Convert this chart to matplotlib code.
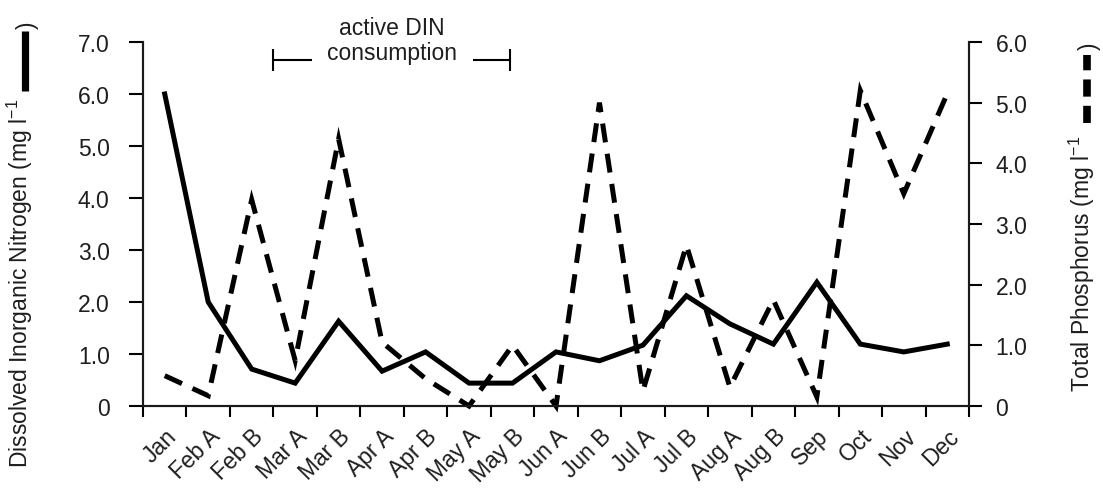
import numpy as np
import matplotlib
matplotlib.use("Agg")
import matplotlib.pyplot as plt
from matplotlib.lines import Line2D


# Data
months = ["Jan", "Feb A", "Feb B", "Mar A", "Mar B", "Apr A", "Apr B",
          "May A", "May B", "Jun A", "Jun B", "Jul A", "Jul B", "Aug A",
          "Aug B", "Sep", "Oct", "Nov", "Dec"]
din = [6.0, 2.0, 0.71, 0.44, 1.63, 0.67, 1.04, 0.44, 0.44, 1.04,
       0.87, 1.17, 2.12, 1.58, 1.19, 2.38, 1.19, 1.04, 1.19]
tp = [0.5, 0.17, 3.4, 0.75, 4.4, 1.05, 0.45, 0.0, 1.0, 0.0,
      5.0, 0.25, 2.65, 0.31, 1.75, 0.15, 5.2, 3.5, 5.15]

left_ticks = [0, 1, 2, 3, 4, 5, 6, 7]
right_ticks = [0, 1, 2, 3, 4, 5, 6]

plt.rcParams["font.family"] = ["Liberation Sans", "DejaVu Sans"]
plt.rcParams["mathtext.fontset"] = "custom"
plt.rcParams["mathtext.rm"] = "Liberation Sans"
plt.rcParams["font.size"] = 16.5
txt_col = "#1e1e1e"

W, H = 1103, 489
fig = plt.figure(figsize=(W / 100, H / 100), dpi=100)
ax = fig.add_axes([143 / W, 1 - 407 / H, (969 - 143) / W, (407 - 43) / H])
ax2 = ax.twinx()

x = np.arange(len(months))
lw = 3.6

ax.plot(x, din, color="black", lw=lw, solid_joinstyle="miter",
        clip_on=False, zorder=3)
ax2.plot(x, tp, color="black", lw=lw, linestyle=(0, (3.8, 2.3)),
         dash_capstyle="butt", dash_joinstyle="miter", clip_on=False)

# axes limits / ticks
ax.set_xlim(-0.5, len(months) - 0.5)
ax.set_ylim(0, 7)
ax2.set_ylim(0, 6)

ax.set_xticks(np.arange(-0.5, len(months)))
ax.set_xticklabels([])
ax.set_xticks(x, minor=True)
ax.set_xticklabels(months, minor=True, rotation=45, ha="right", va="top",
                   rotation_mode="anchor", color=txt_col)
ax.tick_params(axis="x", which="major", direction="out", length=8,
               width=1.5)
ax.tick_params(axis="x", which="minor", length=0, pad=13)

ax.set_yticks(left_ticks)
ax.set_yticklabels(["0"] + ["%.1f" % v for v in left_ticks[1:]],
                   color=txt_col)
ax.tick_params(axis="y", direction="out", length=10, width=1.5, pad=14)
ax2.set_yticks(right_ticks)
ax2.set_yticklabels(["0"] + ["%.1f" % v for v in right_ticks[1:]],
                    color=txt_col)
ax2.tick_params(axis="y", direction="out", length=9, width=1.5, pad=10)

for a in (ax, ax2):
    a.spines["top"].set_visible(False)
    for s in ("left", "right", "bottom"):
        a.spines[s].set_linewidth(1.5)
        a.spines[s].set_color("#1a1a1a")

# annotation: active DIN consumption
ax.text(5.23, 7.04, "active DIN\nconsumption", ha="center", va="center",
        linespacing=1.1, color=txt_col, clip_on=False)
bk = dict(color="black", lw=1.5, clip_on=False, solid_capstyle="butt")
ax.plot([2.5, 3.38], [6.65, 6.65], **bk)
ax.plot([2.5, 2.5], [6.44, 6.87], **bk)
ax.plot([7.08, 7.95], [6.65, 6.65], **bk)
ax.plot([7.95, 7.95], [6.44, 6.87], **bk)

# axis labels with embedded line symbols
lab_l = fig.text(20 / W, 1 - 468 / H,
                 r"Dissolved Inorganic Nitrogen (mg l$^{\mathregular{-1}}$",
                 rotation=90, ha="center", va="bottom", color=txt_col)
lab_r = fig.text(1082 / W, 1 - 392 / H,
                 r"Total Phosphorus (mg l$^{\mathregular{-1}}$",
                 rotation=90, ha="center", va="bottom", color=txt_col)

fig.canvas.draw()
r = fig.canvas.get_renderer()
bl = lab_l.get_window_extent(r)
br = lab_r.get_window_extent(r)

# left: solid bar then ")"
xl = 24.5 / W
y0 = (bl.y1 + 7) / H
y1 = (bl.y1 + 67) / H
fig.add_artist(Line2D([xl, xl], [y0, y1], color="black", lw=5.2,
                      solid_capstyle="butt", transform=fig.transFigure))
fig.text(27 / W, y1 + 3 / H, ")", rotation=90, ha="center", va="bottom",
         color=txt_col)

# right: three dashes then ")"
xr = 1087 / W
y0 = (br.y1 + 12) / H
y1 = (br.y1 + 80) / H
fig.add_artist(Line2D([xr, xr], [y0, y1], color="black", lw=5.5,
                      linestyle=(0, (2.25, 1.2)), dash_capstyle="butt",
                      transform=fig.transFigure))
fig.text(1089 / W, y1 + 6 / H, ")", rotation=90, ha="center", va="bottom",
         color=txt_col)

fig.savefig("out.png", dpi=100)
